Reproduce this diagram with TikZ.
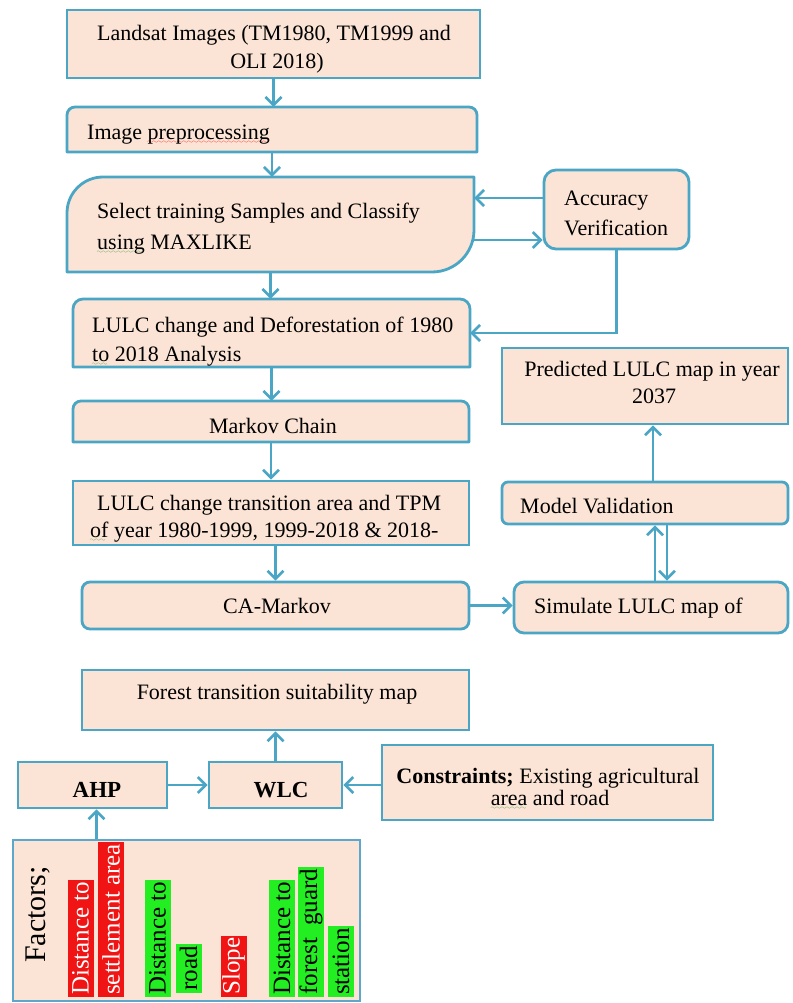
\documentclass[tikz,border=0pt]{standalone}
\usepackage{fontspec}
\setmainfont{Liberation Serif}
\usetikzlibrary{arrows.meta,calc,fit}
\definecolor{tl}{HTML}{4AA6C4}
\definecolor{tlb}{HTML}{5BA8CC}
\definecolor{pc}{HTML}{FBE4D5}
\definecolor{barred}{HTML}{F01414}
\definecolor{bargreen}{HTML}{22EE22}
\definecolor{sqgreen}{HTML}{3A9A3A}
\font\sqfont=lasy6
\newcommand\squig[2]{\setbox0\hbox{#2}\rlap{\lower4pt\hbox to \wd0{\color{#1}\leaders\hbox{\sqfont\char58}\hfill}}\box0\relax}
\newcommand\cornerbox[9]{%
 \node[ghost, fit={(#2,#3) (#4,#5)}] (#1) {};
 \draw[draw=tl, fill=pc, line width=2.8pt, line join=round]
  (#2,{#3+#6}) .. controls (#2,{#3+0.448*#6}) and ({#2+0.448*#6},#3) .. ({#2+#6},#3)
  -- ({#4-#7},#3) .. controls ({#4-0.448*#7},#3) and (#4,{#3+0.448*#7}) .. (#4,{#3+#7})
  -- (#4,{#5-#8}) .. controls (#4,{#5-0.448*#8}) and ({#4-0.448*#8},#5) .. ({#4-#8},#5)
  -- ({#2+#9},#5) .. controls ({#2+0.448*#9},#5) and (#2,{#5-0.448*#9}) .. (#2,{#5-#9}) -- cycle;}
\begin{document}
\begin{tikzpicture}[x=1pt,y=-1pt,
  frame/.style={draw=tl, fill=pc, line width=2.8pt, inner sep=0pt},
  ghost/.style={inner sep=0pt},
  txt/.style={inner sep=0pt, font=\fontsize{22}{26}\selectfont},
  arr/.style={draw=tl, line width=2.6pt, -{Straight Barb[length=8pt,width=16pt]}},
  bar/.style={rotate=90, anchor=west, inner xsep=2pt, inner ysep=0pt, minimum height=26pt, font=\fontsize{25}{25}\selectfont}]
\useasboundingbox[fill=white] (0,0) rectangle (792,1003);
% boxes
\node[frame, minimum width=413pt, minimum height=68pt] (land) at (273.5,44) {};
\cornerbox{prep}{67}{107}{477}{152}{8}{8}{0.3}{0.3}
\cornerbox{sel}{67}{177}{474}{272}{36}{0.3}{42}{0.3}
\node[frame, rounded corners=12pt, minimum width=145pt, minimum height=79pt] (acc) at (616.5,209.5) {};
\cornerbox{lulc}{73}{299}{470}{367}{10}{10}{0.3}{0.3}
\cornerbox{markov}{73}{401}{469}{442}{8}{8}{0.3}{0.3}
\node[frame, minimum width=396pt, minimum height=64pt] (trans) at (271,513) {};
\node[frame, rounded corners=8pt, minimum width=387pt, minimum height=47pt] (ca) at (275.5,605.5) {};
\node[frame, minimum width=387pt, minimum height=60pt] (forest) at (275.5,700) {};
\node[frame, minimum width=286pt, minimum height=76pt] (pred) at (645,386) {};
\node[frame, rounded corners=6pt, minimum width=286pt, minimum height=42pt] (model) at (645,503) {};
\node[frame, rounded corners=10pt, minimum width=274pt, minimum height=51pt] (sim) at (651,607.5) {};
\node[frame, minimum width=149pt, minimum height=46pt] (ahp) at (92.5,785) {};
\node[frame, minimum width=133pt, minimum height=46pt] (wlc) at (275.5,785) {};
\node[frame, minimum width=331pt, minimum height=75pt] (cons) at (547.5,782.5) {};
\node[frame, draw=tlb, line width=2pt, minimum width=347pt, minimum height=161pt] (fac) at (186.5,920.5) {};
% connectors
\draw[arr] (land.south) -- (land.south |- prep.north);
\draw[arr] (prep.south) -- (prep.south |- sel.north);
\draw[arr] (sel.south) -- (sel.south |- lulc.north);
\draw[arr] (lulc.south) -- (lulc.south |- markov.north);
\draw[arr] (markov.south) -- (markov.south |- trans.north);
\draw[arr] (ca.north |- trans.south) -- (ca.north);
\draw[arr] ([yshift=11.5pt]acc.west) -- ([yshift=11.5pt]acc.west -| sel.east);
\draw[arr] ([yshift=-30.5pt]acc.west -| sel.east) -- ([yshift=-30.5pt]acc.west);
\draw[arr] (acc.south) |- (lulc.east);
\draw[arr] (ca.east) -- (ca.east -| sim.west);
\draw[arr] ([xshift=10pt]model.south |- sim.north) -- ([xshift=10pt]model.south);
\draw[arr] ([xshift=22pt]model.south) -- ([xshift=22pt]model.south |- sim.north);
\draw[arr] ([xshift=8pt]model.north) -- ([xshift=8pt]model.north |- pred.south);
\draw[arr] (wlc.north) -- (wlc.north |- forest.south);
\draw[arr] (ahp.east) -- (wlc.west);
\draw[arr] (cons.west |- wlc.east) -- (wlc.east);
\draw[arr] ([xshift=4pt]ahp.south |- fac.north) -- ([xshift=4pt]ahp.south);
% texts
\node[txt, anchor=base] (land1) at (274,41) {Landsat Images (TM1980, TM1999 and};
\node[txt, anchor=base] (land2) at (277,69) {OLI 2018)};
\node[txt, anchor=base west] (prept) at (87,140) {Image \squig{red}{preprocessing}};
\node[txt, anchor=base west] (sel1) at (97,218) {Select training Samples and Classify};
\node[txt, anchor=base west] (sel2) at (97,249) {\squig{sqgreen}{using} MAXLIKE};
\node[txt, anchor=base west] (acc1) at (564,205) {Accuracy};
\node[txt, anchor=base west] (acc2) at (564,235) {Verification};
\node[txt, anchor=base west] (lulc1) at (92,332) {LULC change and Deforestation of 1980};
\node[txt, anchor=base west] (lulc2) at (92,361) {\squig{sqgreen}{to} 2018 Analysis};
\node[txt, anchor=base] (markovt) at (273,433) {Markov Chain};
\node[txt, anchor=base west] (trans1) at (97,510) {LULC change transition area and TPM};
\node[txt, anchor=base west] (trans2) at (90,537) {\squig{sqgreen}{of} year 1980-1999, 1999-2018 \& 2018-};
\node[txt, anchor=base] (cat) at (277,613) {CA-Markov};
\node[txt, anchor=base] (forestt) at (277,699) {Forest transition suitability map};
\node[txt, anchor=base] (pred1) at (652,376) {Predicted LULC map in year};
\node[txt, anchor=base] (pred2) at (654,403) {2037};
\node[txt, anchor=base west] (modelt) at (520,513) {Model Validation};
\node[txt, anchor=base west] (simt) at (534,613) {Simulate LULC map of};
\node[txt, anchor=base, font=\fontsize{23}{26}\selectfont\bfseries] (ahpt) at (97,797) {AHP};
\node[txt, anchor=base, font=\fontsize{23}{26}\selectfont\bfseries] (wlct) at (281,797) {WLC};
\node[txt, anchor=base] (cons1) at (548,783) {\textbf{Constraints;} Existing agricultural};
\node[txt, anchor=base] (cons2) at (550,805) {\squig{sqgreen}{area} and road};
\node[rotate=90, anchor=base west, inner sep=0pt, font=\fontsize{30}{30}\selectfont] (factt) at (45,963) {Factors;};
\node[bar, fill=barred, text=white] (b1) at (80.5,997) {Distance to};
\node[bar, fill=barred, text=white] (b2) at (111,997) {settlement area};
\node[bar, fill=bargreen] (b3) at (157.5,997) {Distance to};
\node[bar, fill=bargreen] (b4) at (188.5,993) {road};
\node[bar, fill=barred, text=white] (b5) at (233.5,997) {Slope};
\node[bar, fill=bargreen] (b6) at (282,997) {Distance to};
\node[bar, fill=bargreen] (b7) at (311,997) {forest\hspace{12pt}guard};
\node[bar, fill=bargreen] (b8) at (341,997) {station};
\end{tikzpicture}
\end{document}
